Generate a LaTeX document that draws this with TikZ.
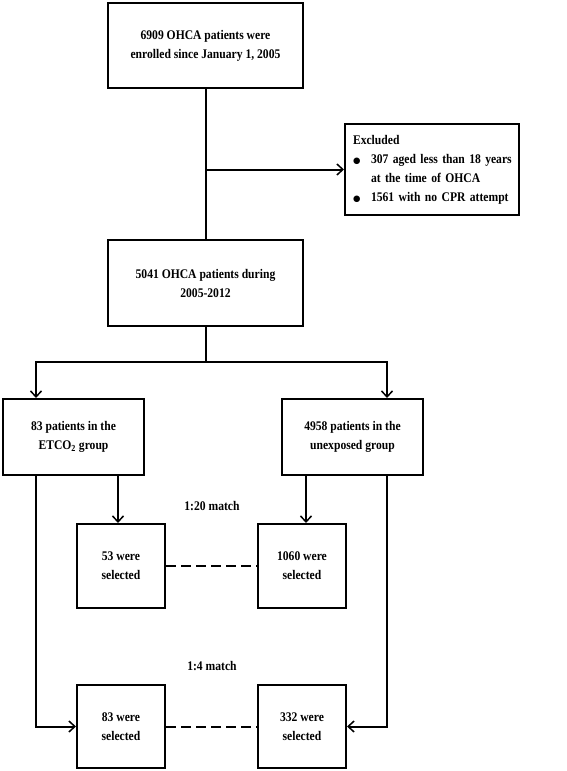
\documentclass[tikz,border=0pt]{standalone}
\usepackage{fontspec}
\setmainfont{Liberation Serif}[FakeStretch=0.88]
\newfontfamily\dejavu{DejaVu Sans}
\usetikzlibrary{arrows.meta}
\newcommand{\bul}{\makebox[18pt][l]{{\dejavu\fontsize{8.5}{8.5}\selectfont ●}}}
\begin{document}
\begin{tikzpicture}[x=1pt,y=-1pt,
  every node/.style={font=\fontsize{13.2}{19}\selectfont\bfseries},
  box/.style={draw, line width=2pt, inner sep=0pt, align=center},
  conn/.style={line width=2pt},
  arr/.style={conn, -{Straight Barb[length=6pt,width=11pt,line width=1.5pt]}},
  dashline/.style={conn, dash pattern=on 10pt off 5pt}]
\useasboundingbox (0,0) rectangle (567,771);
\node[box, minimum width=195pt, minimum height=85pt] (top) at (205.5,45.5) {6909 OHCA patients were\\enrolled since January 1, 2005};
\node[box, minimum width=174pt, minimum height=91pt, text width=158pt, align=left, inner xsep=8pt] (excl) at (432,169.5)
  {\mbox{Excluded}\\\mbox{\bul 307 aged less than 18 years}\\\mbox{\hspace*{18pt}at the time of OHCA}\\\mbox{\bul 1561 with no CPR attempt}};
\node[box, minimum width=195pt, minimum height=86pt] (mid) at (205.5,283) {5041 OHCA patients during\\2005-2012};
\node[box, minimum width=141pt, minimum height=76pt] (etco) at (73.5,437) {83 patients in the\\ETCO\textsubscript{2} group};
\node[box, minimum width=141pt, minimum height=76pt] (unexp) at (352.5,437) {4958 patients in the\\unexposed group};
\node[box, minimum width=88pt, minimum height=84pt] (s53) at (121,566) {53 were\\selected};
\node[box, minimum width=88pt, minimum height=84pt] (s1060) at (302,566) {1060 were\\selected};
\node[box, minimum width=88pt, minimum height=83pt] (b83) at (121,726.5) {83 were\\selected};
\node[box, minimum width=88pt, minimum height=83pt] (b332) at (302,726.5) {332 were\\selected};
\node (m20) at (212,506) {1:20 match};
\node (m4) at (212,666) {1:4 match};
\coordinate (lx) at (36,0);
\coordinate (rx) at (387,0);
\coordinate (j) at (205.5,362);
\coordinate (lin) at (118,0);
\coordinate (rin) at (306,0);
% connectors
\draw[conn] (top.south) -- (mid.north);
\draw[arr] (top.south |- excl.west) -- (excl.west);
\draw[conn] (mid.south) -- (j);
\draw[arr] (j) -| (lx |- etco.north);
\draw[arr] (j) -| (rx |- unexp.north);
\draw[arr] (lin |- etco.south) -- (lin |- s53.north);
\draw[arr] (rin |- unexp.south) -- (rin |- s1060.north);
\draw[arr] (lx |- etco.south) |- (b83.west);
\draw[arr] (rx |- unexp.south) |- (b332.east);
\draw[dashline] (s53.east) -- (s1060.west);
\draw[dashline] (b83.east) -- (b332.west);
\end{tikzpicture}
\end{document}
